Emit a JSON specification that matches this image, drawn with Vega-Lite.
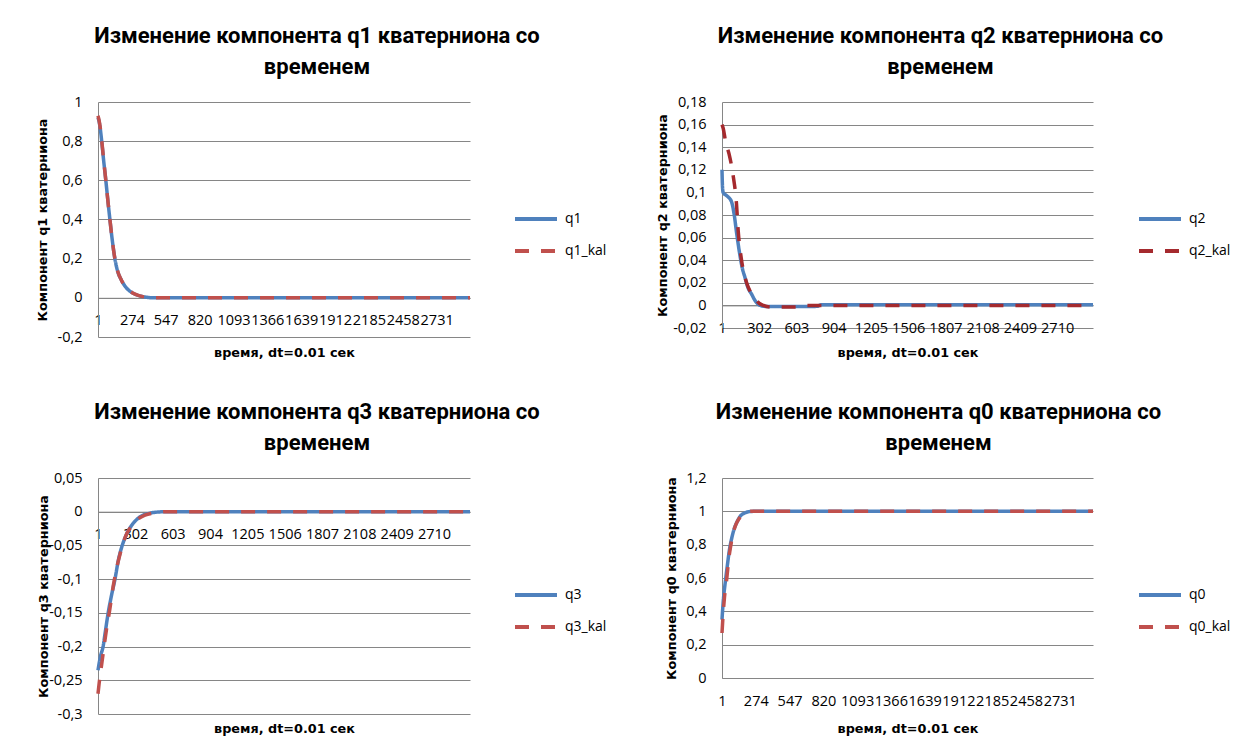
{
  "$schema": "https://vega.github.io/schema/vega-lite/v6.json",
  "background": "white",
  "padding": {"left": 35, "top": 25, "right": 5, "bottom": 5},
  "columns": 2,
  "spacing": {"row": 141, "column": 252},
  "bounds": "flush",
  "resolve": {"scale": {"color": "independent", "strokeDash": "independent"}, "legend": {"color": "independent", "strokeDash": "independent"}},
  "config": {
    "view": {"stroke": null},
    "axis": {"labelFont": "Open Sans", "labelFontSize": 14.5, "labelColor": "#000", "titleFont": "DejaVu Sans", "titleFontSize": 12.8, "titleFontWeight": "bold", "titleColor": "#000", "domainColor": "#868686", "gridColor": "#868686", "gridOpacity": 1, "ticks": false, "tickSize": 0},
    "title": {"font": "Roboto", "fontSize": 22, "fontWeight": "bold", "color": "#000", "anchor": "middle", "frame": "group", "lineHeight": 31, "baseline": "bottom", "offset": 15, "dx": 33},
    "legend": {"title": null, "orient": "none", "legendX": 422, "legendY": 101, "padding": 0, "symbolType": "M-1.5,0H1.5", "symbolSize": 784, "symbolStrokeWidth": 4, "symbolFillColor": "transparent", "rowPadding": 8, "labelFont": "Open Sans", "labelFontSize": 14, "labelColor": "#000", "labelOffset": 13}
  },
  "concat": [
    {
      "width": 372, "height": 235,
      "title": {"text": ["Изменение компонента q1 кватерниона со", "временем"]},
      "data": {"values": [
        {"t":1,"v":0.92,"s":"q1"},{"t":10,"v":0.9,"s":"q1"},{"t":20,"v":0.86,"s":"q1"},{"t":30,"v":0.805,"s":"q1"},{"t":45,"v":0.71,"s":"q1"},{"t":64,"v":0.6,"s":"q1"},{"t":80,"v":0.5,"s":"q1"},{"t":97,"v":0.4,"s":"q1"},{"t":115,"v":0.3,"s":"q1"},{"t":137,"v":0.2,"s":"q1"},{"t":160,"v":0.135,"s":"q1"},{"t":190,"v":0.09,"s":"q1"},{"t":231,"v":0.05,"s":"q1"},{"t":280,"v":0.025,"s":"q1"},{"t":338,"v":0.01,"s":"q1"},{"t":380,"v":0.004,"s":"q1"},{"t":420,"v":0.001,"s":"q1"},{"t":500,"v":0,"s":"q1"},{"t":3000,"v":0,"s":"q1"},
        {"t":1,"v":0.93,"s":"q1_kal"},{"t":10,"v":0.905,"s":"q1_kal"},{"t":20,"v":0.865,"s":"q1_kal"},{"t":30,"v":0.81,"s":"q1_kal"},{"t":45,"v":0.715,"s":"q1_kal"},{"t":64,"v":0.6,"s":"q1_kal"},{"t":80,"v":0.5,"s":"q1_kal"},{"t":97,"v":0.4,"s":"q1_kal"},{"t":115,"v":0.3,"s":"q1_kal"},{"t":137,"v":0.2,"s":"q1_kal"},{"t":160,"v":0.135,"s":"q1_kal"},{"t":190,"v":0.09,"s":"q1_kal"},{"t":231,"v":0.05,"s":"q1_kal"},{"t":280,"v":0.025,"s":"q1_kal"},{"t":338,"v":0.01,"s":"q1_kal"},{"t":380,"v":0.004,"s":"q1_kal"},{"t":420,"v":0.001,"s":"q1_kal"},{"t":500,"v":0,"s":"q1_kal"},{"t":3000,"v":0,"s":"q1_kal"}
      ]},
      "mark": {"type": "line", "strokeWidth": 3.5, "strokeCap": "butt", "interpolate": "monotone"},
      "encoding": {
        "x": {"field": "t", "type": "quantitative", "scale": {"domain": [1, 3000], "nice": false},
          "axis": {"values": [1,274,547,820,1093,1366,1639,1912,2185,2458,2731], "format": "d", "labelOverlap": false, "labelFlush": false, "labelBound": false, "labelBaseline": "middle", "labelPadding": 23, "grid": false, "offset": -39.2, "title": "время, dt=0.01 сек", "titleY": 55, "titleBaseline": "middle"}},
        "y": {"field": "v", "type": "quantitative", "scale": {"domain": [-0.2, 1], "nice": false},
          "axis": {"values": [-0.2,0,0.2,0.4,0.6,0.8,1], "labelExpr": "replace(replace(format(datum.value,'~g'),'.',','),'\u2212','-')", "labelPadding": 16, "title": "Компонент q1 кватерниона", "titleX": -56, "titleY": 117.5, "titleAngle": 270, "titleBaseline": "middle", "titleAlign": "center"}},
        "color": {"field": "s", "type": "nominal", "scale": {"domain": ["q1", "q1_kal"], "range": ["#4F81BD", "#C0504D"]}},
        "strokeDash": {"field": "s", "type": "nominal", "scale": {"domain": ["q1", "q1_kal"], "range": [[1, 0], [14, 12]]}}
      }
    },
    {
      "width": 371, "height": 226,
      "title": {"text": ["Изменение компонента q2 кватерниона со", "временем"]},
      "data": {"values": [
        {"t":1,"v":0.12,"s":"q2"},{"t":5,"v":0.105,"s":"q2"},{"t":10,"v":0.1,"s":"q2"},{"t":40,"v":0.097,"s":"q2"},{"t":77,"v":0.092,"s":"q2"},{"t":100,"v":0.08,"s":"q2"},{"t":118,"v":0.065,"s":"q2"},{"t":145,"v":0.045,"s":"q2"},{"t":165,"v":0.033,"s":"q2"},{"t":186,"v":0.025,"s":"q2"},{"t":210,"v":0.016,"s":"q2"},{"t":240,"v":0.01,"s":"q2"},{"t":270,"v":0.004,"s":"q2"},{"t":309,"v":0,"s":"q2"},{"t":363,"v":-0.001,"s":"q2"},{"t":500,"v":-0.001,"s":"q2"},{"t":700,"v":-0.001,"s":"q2"},{"t":773,"v":-0.0008,"s":"q2"},{"t":800,"v":0.0005,"s":"q2"},{"t":3000,"v":0.0005,"s":"q2"},
        {"t":1,"v":0.16,"s":"q2_kal"},{"t":10,"v":0.157,"s":"q2_kal"},{"t":30,"v":0.145,"s":"q2_kal"},{"t":58,"v":0.134,"s":"q2_kal"},{"t":91,"v":0.115,"s":"q2_kal"},{"t":118,"v":0.09,"s":"q2_kal"},{"t":132,"v":0.066,"s":"q2_kal"},{"t":159,"v":0.04,"s":"q2_kal"},{"t":200,"v":0.02,"s":"q2_kal"},{"t":230,"v":0.012,"s":"q2_kal"},{"t":268,"v":0.006,"s":"q2_kal"},{"t":300,"v":0.002,"s":"q2_kal"},{"t":336,"v":0,"s":"q2_kal"},{"t":400,"v":-0.0015,"s":"q2_kal"},{"t":600,"v":-0.0015,"s":"q2_kal"},{"t":650,"v":0,"s":"q2_kal"},{"t":3000,"v":0,"s":"q2_kal"}
      ]},
      "mark": {"type": "line", "strokeWidth": 3.5, "strokeCap": "butt", "interpolate": "monotone"},
      "encoding": {
        "x": {"field": "t", "type": "quantitative", "scale": {"domain": [1, 3000], "nice": false},
          "axis": {"values": [1,302,603,904,1205,1506,1807,2108,2409,2710], "format": "d", "labelOverlap": false, "labelFlush": false, "labelBound": false, "labelBaseline": "middle", "labelPadding": 23, "grid": false, "offset": -22.6, "title": "время, dt=0.01 сек", "titleY": 47, "titleBaseline": "middle"}},
        "y": {"field": "v", "type": "quantitative", "scale": {"domain": [-0.02, 0.18], "nice": false},
          "axis": {"values": [-0.02,0,0.02,0.04,0.06,0.08,0.1,0.12,0.14,0.16,0.18], "labelExpr": "replace(replace(format(datum.value,'~g'),'.',','),'\u2212','-')", "labelPadding": 16, "title": "Компонент q2 кватерниона", "titleX": -60, "titleY": 113, "titleAngle": 270, "titleBaseline": "middle", "titleAlign": "center"}},
        "color": {"field": "s", "type": "nominal", "scale": {"domain": ["q2", "q2_kal"], "range": ["#4F81BD", "#A52A2E"]}},
        "strokeDash": {"field": "s", "type": "nominal", "scale": {"domain": ["q2", "q2_kal"], "range": [[1, 0], [14, 12]]}}
      }
    },
    {
      "width": 372, "height": 236,
      "title": {"text": ["Изменение компонента q3 кватерниона со", "временем"]},
      "data": {"values": [
        {"t":1,"v":-0.235,"s":"q3"},{"t":20,"v":-0.215,"s":"q3"},{"t":42,"v":-0.2,"s":"q3"},{"t":60,"v":-0.178,"s":"q3"},{"t":83,"v":-0.15,"s":"q3"},{"t":110,"v":-0.124,"s":"q3"},{"t":138,"v":-0.1,"s":"q3"},{"t":165,"v":-0.072,"s":"q3"},{"t":193,"v":-0.052,"s":"q3"},{"t":230,"v":-0.034,"s":"q3"},{"t":262,"v":-0.023,"s":"q3"},{"t":300,"v":-0.014,"s":"q3"},{"t":345,"v":-0.007,"s":"q3"},{"t":400,"v":-0.003,"s":"q3"},{"t":455,"v":-0.001,"s":"q3"},{"t":550,"v":0,"s":"q3"},{"t":3000,"v":0,"s":"q3"},
        {"t":1,"v":-0.27,"s":"q3_kal"},{"t":10,"v":-0.255,"s":"q3_kal"},{"t":28,"v":-0.23,"s":"q3_kal"},{"t":50,"v":-0.2,"s":"q3_kal"},{"t":69,"v":-0.175,"s":"q3_kal"},{"t":96,"v":-0.145,"s":"q3_kal"},{"t":124,"v":-0.11,"s":"q3_kal"},{"t":150,"v":-0.085,"s":"q3_kal"},{"t":180,"v":-0.062,"s":"q3_kal"},{"t":234,"v":-0.032,"s":"q3_kal"},{"t":280,"v":-0.02,"s":"q3_kal"},{"t":317,"v":-0.012,"s":"q3_kal"},{"t":380,"v":-0.005,"s":"q3_kal"},{"t":455,"v":-0.002,"s":"q3_kal"},{"t":550,"v":0,"s":"q3_kal"},{"t":3000,"v":0,"s":"q3_kal"}
      ]},
      "mark": {"type": "line", "strokeWidth": 3.5, "strokeCap": "butt", "interpolate": "monotone"},
      "encoding": {
        "x": {"field": "t", "type": "quantitative", "scale": {"domain": [1, 3000], "nice": false},
          "axis": {"values": [1,302,603,904,1205,1506,1807,2108,2409,2710], "format": "d", "labelOverlap": false, "labelFlush": false, "labelBound": false, "labelBaseline": "middle", "labelPadding": 23, "grid": false, "offset": -202.3, "title": "время, dt=0.01 сек", "titleY": 217, "titleBaseline": "middle"}},
        "y": {"field": "v", "type": "quantitative", "scale": {"domain": [-0.3, 0.05], "nice": false},
          "axis": {"values": [-0.3,-0.25,-0.2,-0.15,-0.1,-0.05,0,0.05], "labelExpr": "replace(replace(format(datum.value,'~g'),'.',','),'\u2212','-')", "labelPadding": 16, "title": "Компонент q3 кватерниона", "titleX": -55, "titleY": 118, "titleAngle": 270, "titleBaseline": "middle", "titleAlign": "center"}},
        "color": {"field": "s", "type": "nominal", "scale": {"domain": ["q3", "q3_kal"], "range": ["#4F81BD", "#C0504D"]}},
        "strokeDash": {"field": "s", "type": "nominal", "scale": {"domain": ["q3", "q3_kal"], "range": [[1, 0], [14, 12]]}}
      }
    },
    {
      "width": 371, "height": 200,
      "title": {"text": ["Изменение компонента q0 кватерниона со", "временем"], "dx": 31},
      "data": {"values": [
        {"t":1,"v":0.35,"s":"q0"},{"t":10,"v":0.45,"s":"q0"},{"t":29,"v":0.584,"s":"q0"},{"t":45,"v":0.68,"s":"q0"},{"t":60,"v":0.764,"s":"q0"},{"t":80,"v":0.84,"s":"q0"},{"t":99,"v":0.894,"s":"q0"},{"t":125,"v":0.94,"s":"q0"},{"t":152,"v":0.974,"s":"q0"},{"t":185,"v":0.99,"s":"q0"},{"t":217,"v":0.998,"s":"q0"},{"t":260,"v":1,"s":"q0"},{"t":3000,"v":1,"s":"q0"},
        {"t":1,"v":0.27,"s":"q0_kal"},{"t":10,"v":0.38,"s":"q0_kal"},{"t":21,"v":0.484,"s":"q0_kal"},{"t":40,"v":0.6,"s":"q0_kal"},{"t":55,"v":0.71,"s":"q0_kal"},{"t":73,"v":0.8,"s":"q0_kal"},{"t":90,"v":0.865,"s":"q0_kal"},{"t":113,"v":0.92,"s":"q0_kal"},{"t":140,"v":0.957,"s":"q0_kal"},{"t":166,"v":0.98,"s":"q0_kal"},{"t":200,"v":0.994,"s":"q0_kal"},{"t":230,"v":1,"s":"q0_kal"},{"t":3000,"v":1,"s":"q0_kal"}
      ]},
      "mark": {"type": "line", "strokeWidth": 3.5, "strokeCap": "butt", "interpolate": "monotone"},
      "encoding": {
        "x": {"field": "t", "type": "quantitative", "scale": {"domain": [1, 3000], "nice": false},
          "axis": {"values": [1,274,547,820,1093,1366,1639,1912,2185,2458,2731], "format": "d", "labelOverlap": false, "labelFlush": false, "labelBound": false, "labelBaseline": "middle", "labelPadding": 23, "grid": false, "title": "время, dt=0.01 сек", "titleY": 50, "titleBaseline": "middle"}},
        "y": {"field": "v", "type": "quantitative", "scale": {"domain": [0, 1.2], "nice": false},
          "axis": {"values": [0,0.2,0.4,0.6,0.8,1,1.2], "labelExpr": "replace(replace(format(datum.value,'~g'),'.',','),'\u2212','-')", "labelPadding": 16, "title": "Компонент q0 кватерниона", "titleX": -51, "titleY": 100, "titleAngle": 270, "titleBaseline": "middle", "titleAlign": "center"}},
        "color": {"field": "s", "type": "nominal", "scale": {"domain": ["q0", "q0_kal"], "range": ["#4F81BD", "#C0504D"]}},
        "strokeDash": {"field": "s", "type": "nominal", "scale": {"domain": ["q0", "q0_kal"], "range": [[1, 0], [14, 12]]}}
      }
    }
  ]
}
